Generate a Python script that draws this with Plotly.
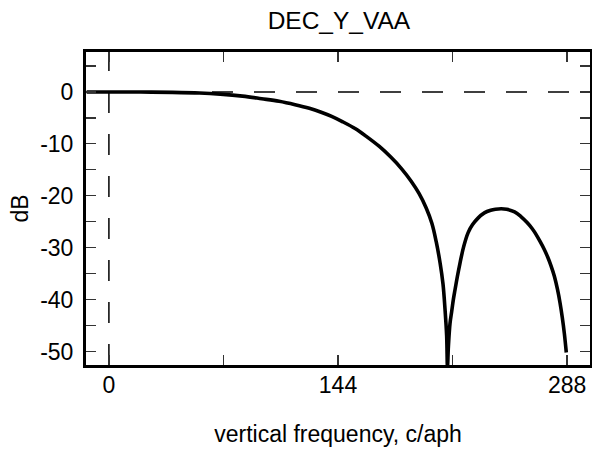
import plotly.graph_objects as go

freq = [-14, 0, 20, 40, 57, 70, 84, 96, 107, 117, 126, 133, 140, 147, 155, 162,
        170, 177, 184, 190, 195, 199.5, 203, 205.7, 208.2, 210, 211.3, 212.3,
        212.8, 213.4, 214.4, 215.5, 216.5, 217.5, 219, 220.6, 223, 225.8, 228.5,
        232, 236, 240, 243, 246.6, 250, 255, 259, 263, 266, 268, 271, 273.6,
        275.8, 277.8, 280, 282, 283.6, 285, 286.3, 287.5]
db = [0, 0, -0.02, -0.08, -0.2, -0.42, -0.8, -1.3, -1.8, -2.45, -3.15, -3.85,
      -4.7, -5.75, -7.1, -8.6, -10.5, -12.5, -14.8, -17.2, -19.6, -22.4, -25.3,
      -28.8, -33, -37, -42, -47, -53, -49, -44.6, -42.2, -40, -38.2, -35.6,
      -33.1, -29.8, -27.1, -25.6, -24.3, -23.3, -22.8, -22.6, -22.5, -22.6,
      -23.1, -24.0, -25.2, -26.3, -27.2, -28.8, -30.3, -31.8, -33.4, -35.5,
      -38.1, -40.7, -43.5, -46.6, -50.2]

x_ticks = [0, 144, 288]
y_ticks = [0, -10, -20, -30, -40, -50]
title = "DEC_Y_VAA"
x_title = "vertical frequency, c/aph"
y_title = "dB"

FONT = "Liberation Sans, Arial, sans-serif"

fig = go.Figure()
fig.add_trace(go.Scatter(x=freq, y=db, mode="lines",
                         line=dict(color="black", width=3.6, shape="spline", smoothing=1.0),
                         showlegend=False, hoverinfo="skip"))

fig.add_shape(type="line", xref="paper", yref="y", x0=0, x1=1, y0=0, y1=0,
              line=dict(color="black", width=1.5, dash="21px,21px"), layer="below")
fig.add_shape(type="line", xref="x", yref="paper", x0=0, x1=0, y0=0, y1=1,
              line=dict(color="black", width=1.5, dash="21px,21px"), layer="below")

axis_common = dict(showgrid=False, zeroline=False, showline=True, linecolor="black",
                   linewidth=3, mirror="allticks", ticks="inside", ticklen=10,
                   tickwidth=1.2, tickcolor="#333", automargin=False,
                   tickfont=dict(family=FONT, size=23, color="black"))

fig.update_xaxes(range=[-14.4, 302.4], tickvals=x_ticks, ticktext=[str(v) for v in x_ticks],
                 minor=dict(dtick=72, tick0=0, ticks="inside", ticklen=10, tickwidth=1.2, tickcolor="#333"),
                 ticklabelstandoff=-3,
                 title=dict(text=x_title, font=dict(family=FONT, size=23, color="black"), standoff=30),
                 **axis_common)
fig.update_yaxes(range=[-52.6, 7.7], tickvals=y_ticks, ticktext=[str(v) for v in y_ticks],
                 minor=dict(dtick=5, tick0=0, ticks="inside", ticklen=10, tickwidth=1.2, tickcolor="#333"),
                 ticklabelstandoff=5,
                 title=dict(text=y_title, font=dict(family=FONT, size=23, color="black"), standoff=6),
                 **axis_common)

fig.update_layout(
    width=592, height=452,
    margin=dict(l=86, r=2, t=52, b=87),
    paper_bgcolor="white", plot_bgcolor="white",
    title=dict(text=title, x=0.5725, xanchor="center", y=0.955, yanchor="middle",
               font=dict(family=FONT, size=24.5, color="black")),
)

fig.write_html("out.html", config={"displayModeBar": False, "staticPlot": True},
               post_script="document.body.style.margin='0';document.body.style.padding='0';")
